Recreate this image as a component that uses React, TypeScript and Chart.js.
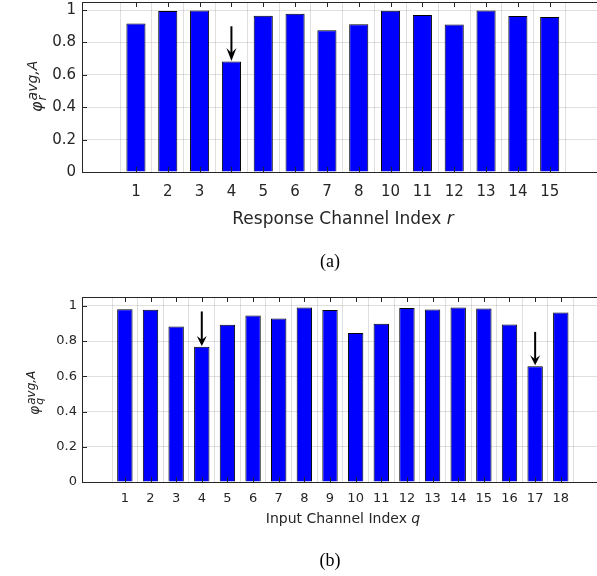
import React, { useEffect, useRef } from "react";
import { Chart, registerables } from "chart.js";
Chart.register(...registerables);

// ---- data ----
const catA = ["1", "2", "3", "4", "5", "6", "7", "8", "10", "11", "12", "13", "14", "15"];
const valA = [0.917, 0.994, 0.998, 0.682, 0.965, 0.977, 0.876, 0.913, 0.996, 0.969, 0.911, 0.998, 0.963, 0.957];
const arrowPosA = [4];
const arrowFromA = [0.9];
const arrowToA = [0.685];

const catB = ["1", "2", "3", "4", "5", "6", "7", "8", "9", "10", "11", "12", "13", "14", "15", "16", "17", "18"];
const valB = [0.981, 0.977, 0.883, 0.767, 0.892, 0.945, 0.928, 0.991, 0.976, 0.846, 0.898, 0.987, 0.979, 0.991, 0.985, 0.894, 0.657, 0.962];
const arrowPosB = [4, 17];
const arrowFromB = [0.968, 0.852];
const arrowToB = [0.772, 0.662];

const yTickVals = [0, 0.2, 0.4, 0.6, 0.8, 1];
const yTickLabels = ["0", "0.2", "0.4", "0.6", "0.8", "1"];

const titleA = "Response Channel Index ";
const titleVarA = "r";
const titleB = "Input Channel Index ";
const titleVarB = "q";
const captionA = "(a)";
const captionB = "(b)";

// ---- styles ----
const FONT = '"DejaVu Sans"';
const TXT = "#262626";
const AXIS = "#262626";
const GRID = "rgba(38,38,38,0.15)";
const CANVAS_W = 604;

type PanelCfg = {
  canvasTop: number;
  canvasH: number;
  areaLeft: number;
  areaTop: number;
  areaBottom: number;
  xMin: number;
  xMax: number;
  tickFont: number;
  xPad: number;
  yPad: number;
  titleFont: number;
  titleBase: number;
  capBase: number;
  capX: number;
  capFont: number;
  lblStart: number;
  phiSize: number;
  phiV: number;
  supSize: number;
  supV: number;
  subSize: number;
  subV: number;
  headLen: number;
  headHalf: number;
};

const cfgA: PanelCfg = {
  canvasTop: 0, canvasH: 280, areaLeft: 82, areaTop: 2, areaBottom: 172,
  xMin: -0.109, xMax: 15.12, tickFont: 15, xPad: 11, yPad: 6,
  titleFont: 17, titleBase: 224, capBase: 267, capX: 330, capFont: 18,
  lblStart: 112, phiSize: 16, phiV: 42, supSize: 14, supV: 37, subSize: 12, subV: 46,
  headLen: 13, headHalf: 5,
};
const cfgB: PanelCfg = {
  canvasTop: 280, canvasH: 296, areaLeft: 82, areaTop: 17, areaBottom: 202,
  xMin: -0.106, xMax: 19.12, tickFont: 13, xPad: 9, yPad: 5,
  titleFont: 14, titleBase: 243, capBase: 286, capX: 330, capFont: 18,
  lblStart: 135, phiSize: 14, phiV: 39, supSize: 12, supV: 35, subSize: 11, subV: 43,
  headLen: 10, headHalf: 5,
};

function Panel(props: {
  cfg: PanelCfg; cats: string[]; vals: number[];
  arrPos: number[]; arrFrom: number[]; arrTo: number[];
  title: string; titleVar: string; caption: string; sub: string;
}) {
  const ref = useRef<HTMLCanvasElement>(null);
  useEffect(() => {
    const { cfg, cats, vals, arrPos, arrFrom, arrTo } = props;
    const overlay = {
      id: "overlay",
      afterDatasetsDraw(chart: any) {
        const ctx = chart.ctx as CanvasRenderingContext2D;
        const { left, right, top, bottom } = chart.chartArea;
        const xs = chart.scales.x;
        const ys = chart.scales.y;
        ctx.save();
        // axes box (left, top, bottom)
        ctx.strokeStyle = AXIS;
        ctx.lineWidth = 1;
        ctx.beginPath();
        ctx.moveTo(left, bottom + 0.5);
        ctx.lineTo(right, bottom + 0.5);
        ctx.moveTo(left, top + 0.5);
        ctx.lineTo(right, top + 0.5);
        ctx.moveTo(left + 0.5, top);
        ctx.lineTo(left + 0.5, bottom + 1);
        const TL = 5;
        cats.forEach((_, i) => {
          const px = Math.round(xs.getPixelForValue(i + 1)) + 0.5;
          ctx.moveTo(px, bottom);
          ctx.lineTo(px, bottom - TL);
          ctx.moveTo(px, top);
          ctx.lineTo(px, top + TL);
        });
        yTickVals.forEach((v) => {
          const py = Math.round(ys.getPixelForValue(v)) + 0.5;
          ctx.moveTo(left, py);
          ctx.lineTo(left + TL, py);
        });
        ctx.stroke();

        // arrows
        ctx.strokeStyle = "#000";
        ctx.fillStyle = "#000";
        ctx.lineWidth = 2;
        arrPos.forEach((p, k) => {
          const ax = xs.getPixelForValue(p);
          const y1 = ys.getPixelForValue(arrFrom[k]);
          const y2 = ys.getPixelForValue(arrTo[k]);
          ctx.beginPath();
          ctx.moveTo(ax, y1);
          ctx.lineTo(ax, y2 - cfg.headLen * 0.6);
          ctx.stroke();
          ctx.beginPath();
          ctx.moveTo(ax, y2);
          ctx.lineTo(ax - cfg.headHalf, y2 - cfg.headLen);
          ctx.lineTo(ax, y2 - cfg.headLen * 0.62);
          ctx.lineTo(ax + cfg.headHalf, y2 - cfg.headLen);
          ctx.closePath();
          ctx.fill();
        });

        // x-axis title
        ctx.fillStyle = TXT;
        ctx.textBaseline = "alphabetic";
        ctx.textAlign = "left";
        const cx = (left + right) / 2;
        ctx.font = `${cfg.titleFont}px ${FONT}`;
        const w1 = ctx.measureText(props.title).width;
        ctx.font = `italic ${cfg.titleFont}px ${FONT}`;
        const w2 = ctx.measureText(props.titleVar).width;
        const sx = cx - (w1 + w2) / 2;
        ctx.font = `${cfg.titleFont}px ${FONT}`;
        ctx.fillText(props.title, sx, cfg.titleBase);
        ctx.font = `italic ${cfg.titleFont}px ${FONT}`;
        ctx.fillText(props.titleVar, sx + w1, cfg.titleBase);

        // caption
        ctx.fillStyle = "#000";
        ctx.textAlign = "center";
        ctx.font = `${cfg.capFont}px "Liberation Serif"`;
        ctx.fillText(props.caption, cfg.capX, cfg.capBase);

        // rotated y label: phi^{avg,A}_{sub}
        ctx.fillStyle = TXT;
        ctx.textAlign = "left";
        ctx.translate(0, cfg.lblStart);
        ctx.rotate(-Math.PI / 2);
        ctx.font = `italic ${cfg.phiSize}px ${FONT}`;
        ctx.fillText("\u03C6", 0, cfg.phiV);
        const pw = ctx.measureText("\u03C6").width + 1;
        ctx.font = `italic ${cfg.supSize}px ${FONT}`;
        ctx.fillText("avg,A", pw, cfg.supV);
        ctx.font = `italic ${cfg.subSize}px ${FONT}`;
        ctx.fillText(props.sub, pw, cfg.subV);
        ctx.restore();
      },
    };

    const chart = new Chart(ref.current as HTMLCanvasElement, {
      type: "bar",
      data: {
        datasets: [
          {
            data: vals.map((v, i) => ({ x: i + 1, y: v })),
            backgroundColor: "#0000ff",
            borderColor: "#000000",
            borderWidth: 1,
            barPercentage: 0.6,
            categoryPercentage: 1,
          } as any,
        ],
      },
      options: {
        responsive: false,
        animation: false,
        events: [],
        layout: { padding: { top: cfg.areaTop, left: 0, right: 0, bottom: 0 } },
        plugins: { legend: { display: false }, tooltip: { enabled: false } },
        scales: {
          x: {
            type: "linear",
            min: cfg.xMin,
            max: cfg.xMax,
            afterBuildTicks: (s: any) => {
              s.ticks = cats.map((_, i) => ({ value: i + 1 }));
            },
            afterFit: (s: any) => {
              s.height = cfg.canvasH - cfg.areaBottom;
              s.paddingLeft = 0;
              s.paddingRight = 0;
            },
            grid: { color: GRID, drawTicks: false, lineWidth: 1 },
            border: { display: false },
            ticks: {
              font: { family: "DejaVu Sans", size: cfg.tickFont },
              color: TXT,
              padding: cfg.xPad,
              maxRotation: 0,
              autoSkip: false,
              callback: (v: any) => cats[Math.round(Number(v)) - 1] ?? "",
            },
          },
          y: {
            type: "linear",
            min: 0,
            max: 1.05,
            afterBuildTicks: (s: any) => {
              s.ticks = yTickVals.map((v) => ({ value: v }));
            },
            afterFit: (s: any) => {
              s.width = cfg.areaLeft;
              s.paddingTop = 0;
              s.paddingBottom = 0;
            },
            grid: { color: GRID, drawTicks: false, lineWidth: 1 },
            border: { display: false },
            ticks: {
              font: { family: "DejaVu Sans", size: cfg.tickFont },
              color: TXT,
              padding: cfg.yPad,
              callback: (v: any) => {
                const idx = yTickVals.findIndex((t) => Math.abs(t - Number(v)) < 1e-9);
                return idx >= 0 ? yTickLabels[idx] : "";
              },
            },
          },
        },
      } as any,
      plugins: [overlay],
    });
    return () => chart.destroy();
  }, []);
  return (
    <canvas
      ref={ref}
      width={CANVAS_W}
      height={props.cfg.canvasH}
      style={{ position: "absolute", left: 0, top: props.cfg.canvasTop, width: CANVAS_W, height: props.cfg.canvasH }}
    />
  );
}

export default function App() {
  return (
    <div style={{ position: "absolute", left: 0, top: 0, width: 597, height: 576, overflow: "hidden", background: "#fff" }}>
      <Panel cfg={cfgA} cats={catA} vals={valA} arrPos={arrowPosA} arrFrom={arrowFromA} arrTo={arrowToA}
        title={titleA} titleVar={titleVarA} caption={captionA} sub="r" />
      <Panel cfg={cfgB} cats={catB} vals={valB} arrPos={arrowPosB} arrFrom={arrowFromB} arrTo={arrowToB}
        title={titleB} titleVar={titleVarB} caption={captionB} sub="q" />
    </div>
  );
}
